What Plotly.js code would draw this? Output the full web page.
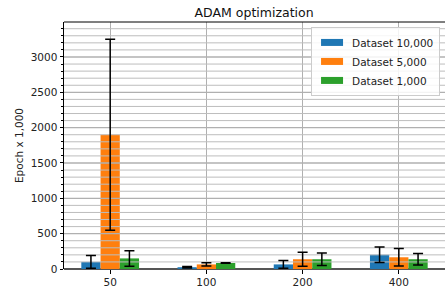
<!DOCTYPE html>
<html><head><meta charset="utf-8">
<script src="https://cdn.plot.ly/plotly-3.0.1.min.js"></script>
<style>html,body{margin:0;padding:0;background:#fff}#chart{width:445px;height:289px}</style>
</head><body><div id="chart"></div>
<script>
const categories = ['50', '100', '200', '400'];
const seriesNames = ['Dataset 10,000', 'Dataset 5,000', 'Dataset 1,000'];
const values10000 = [100, 25, 65, 202];
const errors10000 = [90, 12, 55, 110];
const values5000 = [1900, 65, 138, 166];
const errors5000 = [1350, 22, 100, 123];
const values1000 = [150, 85, 138, 138];
const errors1000 = [110, 5, 90, 80];
const colors = ['#1f77b4', '#ff7f0e', '#2ca02c'];

const vals = [values10000, values5000, values1000];
const errs = [errors10000, errors5000, errors1000];
const traces = vals.map((v, i) => ({
  type: 'bar', x: categories, y: v, name: seriesNames[i],
  marker: {color: colors[i], line: {width: 0}},
  error_y: {type: 'data', array: errs[i], visible: true, color: '#000', thickness: 1.5, width: 5}
}));

const shapes = [];
for (let v = 100; v < 3500; v += 100) {
  const major = v % 500 === 0;
  shapes.push({type: 'line', xref: 'paper', x0: 0, x1: 1, yref: 'y', y0: v, y1: v,
    layer: 'above', line: {color: major ? '#b0b0b0' : '#bdbdbd', width: major ? 1.3 : 1}});
}
shapes.push({type: 'line', xref: 'paper', x0: 0, x1: 1, yref: 'paper', y0: 1, y1: 1, layer: 'above', line: {color: '#000', width: 1}});

const font = {family: 'DejaVu Sans', size: 10.5, color: '#222'};
Plotly.newPlot('chart', traces, {
  width: 445, height: 289,
  margin: {l: 64, r: 0, t: 22, b: 20},
  paper_bgcolor: '#fff', plot_bgcolor: '#fff',
  font: font,
  title: {text: 'ADAM optimization', font: {family: 'DejaVu Sans', size: 12.5, color: '#111'}, x: 0.571, xanchor: 'center', y: 0.958, yanchor: 'middle'},
  barmode: 'group', bargap: 0.4, bargroupgap: 0,
  xaxis: {type: 'category', range: [-0.48, 3.48], showgrid: true, gridcolor: '#b0b0b0', gridwidth: 1,
    ticks: 'outside', ticklen: 3.5, tickcolor: '#000', tickwidth: 1,
    showline: false, zeroline: false, tickfont: font, layer: 'above traces'},
  yaxis: {range: [0, 3495], dtick: 500, showgrid: false, ticks: 'outside', ticklen: 3.5, tickcolor: '#000', tickwidth: 1,
    showline: true, linecolor: '#000', linewidth: 1, zeroline: true, zerolinecolor: '#555', zerolinewidth: 2,
    minor: {dtick: 100, ticks: 'outside', ticklen: 2, tickcolor: '#000', showgrid: false},
    tickfont: font, layer: 'above traces',
    title: {text: 'Epoch x 1,000', font: {family: 'DejaVu Sans', size: 10.5, color: '#222'}, standoff: 4}},
  shapes: shapes,
  legend: {x: 0.987, xanchor: 'right', y: 0.98, yanchor: 'top', bgcolor: 'rgba(255,255,255,0.85)',
    bordercolor: '#cccccc', borderwidth: 1, font: {family: 'DejaVu Sans', size: 10.5, color: '#222'},
    tracegroupgap: 0, itemwidth: 30},
  showlegend: true
}, {staticPlot: true}).then(gd => {
  // draw error bars above the grid overlay (the 'above' shape layer lives in the top svg)
  const upper = gd.querySelector('.layer-above');
  const host = upper ? upper.parentNode : gd.querySelectorAll('.main-svg')[1];
  const legend = host.querySelector('.legend');
  gd.querySelectorAll('g.errorbar').forEach(e => {
    const m = e.parentNode.getCTM();
    const w = document.createElementNS('http://www.w3.org/2000/svg', 'g');
    w.setAttribute('transform', `matrix(${m.a},${m.b},${m.c},${m.d},${m.e},${m.f})`);
    if (legend && legend.parentNode === host) host.insertBefore(w, legend); else host.appendChild(w);
    w.appendChild(e);
  });
  // wide, short legend patches like matplotlib
  gd.querySelectorAll('.legendpoints path').forEach(p => p.setAttribute('d', 'M11,3.5H-11V-3.5H11Z'));
});
</script></body></html>
